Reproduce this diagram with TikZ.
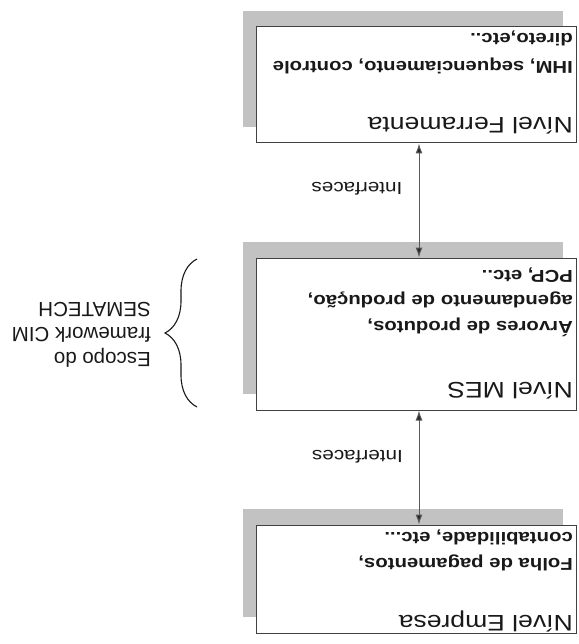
\documentclass[tikz,border=0pt]{standalone}
\usepackage{fontspec}
\setmainfont{Liberation Sans}
\newfontfamily\boxfont[FakeStretch=1.18]{Liberation Sans}
\usetikzlibrary{arrows.meta,shadows,decorations.pathreplacing}
\begin{document}
\begin{tikzpicture}[x=1pt,y=-1pt,
  level/.style={draw=black!75, line width=1pt, fill=white, minimum width=320pt, inner sep=0pt,
    drop shadow={shadow xshift=-14pt, shadow yshift=16pt, fill=black!24, opacity=1}},
  titletxt/.style={rotate=180, anchor=base west, inner sep=0pt, text=black!90,
    font=\boxfont\fontsize{22.5}{27}\selectfont},
  bodytxt/.style={rotate=180, anchor=base west, inner sep=0pt, text=black!90,
    font=\boxfont\bfseries\fontsize{17.2}{#1}\selectfont},
  ifacetxt/.style={rotate=180, anchor=base west, inner sep=0pt, text=black!90,
    font=\boxfont\fontsize{17.5}{21}\selectfont},
  scopetxt/.style={rotate=180, anchor=base west, inner sep=0pt, text=black!90,
    font=\fontsize{20.5}{25}\selectfont},
  link/.style={draw=black!65, line width=1pt, {Latex[length=10pt,width=7pt,fill=black!85]}-{Latex[length=10pt,width=7pt,fill=black!85]}},
  bracestyle/.style={draw=black!90, line width=1.1pt, decorate, decoration={brace, amplitude=32pt}}
]
\useasboundingbox (0,0) rectangle (578,644);

% boxes
\node[level, minimum height=116pt] (fer) at (416.5,85) {};
\node[level, minimum height=152pt] (mes) at (416.5,334) {};
\node[level, minimum height=108pt] (emp) at (416.5,579) {};

% texts in boxes
\node[titletxt] (ferT) at (573,118) {Nível Ferramenta};
\node[bodytxt=28] (ferB) at (573,62) {\begin{tabular}[t]{@{}l@{}}IHM, sequenciamento, controle\\direto,etc..\end{tabular}};
\node[titletxt] (mesT) at (573,382) {Nível MES};
\node[bodytxt=25.5] (mesB) at (573,321) {\begin{tabular}[t]{@{}l@{}}Árvores de produtos,\\agendamento de produção,\\PCP, etc..\end{tabular}};
\node[titletxt] (empT) at (573,615) {Nível Empresa};
\node[bodytxt=26] (empB) at (573,558) {\begin{tabular}[t]{@{}l@{}}Folha de pagamentos,\\contabilidade, etc...\end{tabular}};

% connectors
\draw[link] ([xshift=2.5pt]fer.south) -- ([xshift=2.5pt]mes.north);
\draw[link] ([xshift=2.5pt]mes.south) -- ([xshift=2.5pt]emp.north);
\node[ifacetxt] (if1) at (402.5,183) {Interfaces};
\node[ifacetxt] (if2) at (403,450) {Interfaces};

% brace and scope label
\coordinate (brA) at (197,407);
\coordinate (brB) at (197,259);
\draw[bracestyle] (brA) -- (brB);
\node[scopetxt] (scope) at (151,352) {\begin{tabular}[t]{@{}l@{}}Escopo do\\framework CIM\\SEMATECH\end{tabular}};
\end{tikzpicture}
\end{document}
